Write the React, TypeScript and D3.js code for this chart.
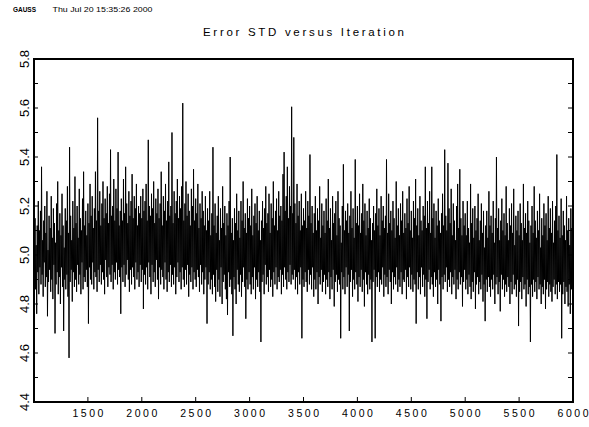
import React from "react";
import * as d3 from "d3";

const START_ITER = 1000;
const ITER_STEP = 5;
const errorStd: number[] = [
  5.08, 4.90, 5.15, 4.86, 5.04, 4.76, 5.12, 4.93, 5.22, 4.84, 5.10, 4.95, 5.18, 4.88, 5.36, 4.92, 5.06, 4.83, 5.14, 4.97,
  5.20, 4.87, 5.09, 4.91, 5.26, 4.75, 5.02, 4.89, 5.16, 4.94, 5.11, 4.85, 5.24, 4.90, 5.07, 4.82, 5.19, 4.96, 5.13, 4.68,
  5.05, 4.88, 5.21, 4.93, 5.30, 4.84, 5.10, 4.91, 5.17, 4.80, 5.08, 4.95, 5.25, 4.87, 5.12, 4.69, 5.03, 4.90, 5.19, 4.86,
  5.14, 4.92, 5.28, 4.83, 5.09, 4.58, 5.44, 4.89, 5.16, 4.94, 5.06, 4.81, 5.22, 4.93, 5.11, 4.87, 5.32, 4.90, 5.13, 4.85,
  5.20, 4.96, 5.07, 4.88, 5.27, 4.92, 5.15, 4.84, 5.10, 4.97, 5.23, 4.86, 5.34, 4.91, 5.12, 4.89, 5.18, 4.94, 5.08, 4.87,
  5.21, 4.72, 5.13, 4.95, 5.29, 4.90, 5.16, 4.88, 5.24, 4.97, 5.11, 4.86, 5.19, 4.93, 5.34, 4.91, 5.14, 4.85, 5.56, 4.94,
  5.18, 4.89, 5.26, 4.96, 5.12, 4.88, 5.21, 4.93, 5.30, 4.90, 5.15, 4.84, 5.23, 4.98, 5.17, 4.91, 5.28, 4.87, 5.13, 4.95,
  5.25, 4.92, 5.43, 4.89, 5.16, 4.96, 5.20, 4.86, 5.31, 4.93, 5.14, 4.90, 5.27, 4.97, 5.19, 4.88, 5.42, 4.94, 5.12, 4.91,
  5.18, 4.76, 5.23, 4.95, 5.14, 4.89, 5.31, 4.96, 5.17, 4.87, 5.36, 4.92, 5.21, 4.98, 5.13, 4.90, 5.26, 4.85, 5.16, 4.94,
  5.22, 4.88, 5.33, 4.95, 5.15, 4.91, 5.24, 4.86, 5.19, 4.97, 5.29, 4.90, 5.12, 4.93, 5.20, 4.87, 5.17, 4.96, 5.24, 4.89,
  5.15, 4.94, 5.27, 4.78, 5.18, 4.92, 5.22, 4.88, 5.29, 4.95, 5.14, 4.86, 5.47, 4.97, 5.20, 4.91, 5.16, 4.84, 5.25, 4.96,
  5.19, 4.89, 5.30, 4.93, 5.13, 4.87, 5.23, 4.98, 5.17, 4.90, 5.27, 4.82, 5.15, 4.95, 5.21, 4.88, 5.34, 4.94, 5.12, 4.91,
  5.24, 4.86, 5.18, 4.97, 5.29, 4.90, 5.14, 4.85, 5.22, 4.93, 5.38, 4.89, 5.16, 4.96, 5.20, 4.87, 5.50, 4.92, 5.13, 4.88,
  5.26, 4.95, 5.17, 4.84, 5.22, 4.91, 5.31, 4.97, 5.15, 4.89, 5.24, 4.93, 5.19, 4.86, 5.28, 4.95, 5.62, 4.90, 5.14, 4.87,
  5.21, 4.94, 5.30, 4.88, 5.16, 4.96, 5.25, 4.83, 5.18, 4.92, 5.12, 4.89, 5.27, 4.95, 5.20, 4.86, 5.35, 4.93, 5.14, 4.90,
  5.23, 4.87, 5.17, 4.94, 5.29, 4.91, 5.11, 4.85, 5.21, 4.96, 5.15, 4.88, 5.26, 4.93, 5.18, 4.84, 5.12, 4.90, 5.24, 4.95,
  5.10, 4.72, 5.19, 4.88, 5.14, 4.93, 5.26, 4.86, 5.08, 4.90, 5.17, 4.84, 5.44, 4.92, 5.12, 4.87, 5.21, 4.81, 5.09, 4.94,
  5.16, 4.85, 5.24, 4.90, 5.06, 4.83, 5.19, 4.95, 5.11, 4.80, 5.28, 4.89, 5.13, 4.92, 5.20, 4.86, 5.08, 4.82, 5.17, 4.755,
  5.12, 4.93, 5.22, 4.87, 5.40, 4.90, 5.09, 4.84, 5.15, 4.67, 5.06, 4.91, 5.19, 4.86, 5.13, 4.80, 5.25, 4.94, 5.10, 4.88,
  5.18, 4.85, 5.07, 4.92, 5.22, 4.83, 5.14, 4.89, 5.30, 4.95, 5.11, 4.87, 5.17, 4.74, 5.09, 4.90, 5.23, 4.86, 5.15, 4.93,
  5.20, 4.88, 5.12, 4.84, 5.27, 4.91, 5.08, 4.86, 5.16, 4.95, 5.21, 4.82, 5.13, 4.90, 5.24, 4.87, 5.10, 4.93, 5.18, 4.85,
  5.06, 4.645, 5.14, 4.89, 5.22, 4.92, 5.11, 4.84, 5.19, 4.96, 5.28, 4.88, 5.13, 4.91, 5.17, 4.85, 5.25, 4.94, 5.09, 4.87,
  5.21, 4.90, 5.15, 4.83, 5.30, 4.93, 5.12, 4.88, 5.18, 4.95, 5.23, 4.86, 5.10, 4.91, 5.26, 4.89, 5.16, 4.94, 5.20, 4.84,
  5.14, 4.92, 5.33, 4.87, 5.42, 4.95, 5.18, 4.90, 5.24, 4.86, 5.36, 4.93, 5.15, 4.89, 5.28, 4.96, 5.20, 4.88, 5.605, 4.92,
  5.17, 4.90, 5.48, 4.94, 5.21, 4.86, 5.13, 4.91, 5.29, 4.84, 5.16, 4.93, 5.22, 4.88, 5.10, 4.95, 5.25, 4.66, 5.12, 4.90,
  5.19, 4.87, 5.14, 4.93, 5.26, 4.89, 5.11, 4.85, 5.22, 4.94, 5.16, 4.88, 5.41, 4.92, 5.13, 4.86, 5.20, 4.95, 5.09, 4.83,
  5.17, 4.90, 5.24, 4.86, 5.10, 4.93, 5.19, 4.80, 5.14, 4.91, 5.28, 4.88, 5.07, 4.94, 5.21, 4.85, 5.12, 4.89, 5.18, 4.92,
  5.09, 4.84, 5.23, 4.90, 5.14, 4.87, 5.31, 4.93, 5.11, 4.82, 5.19, 4.91, 5.06, 4.86, 5.24, 4.94, 5.13, 4.79, 5.17, 4.89,
  5.22, 4.92, 5.08, 4.85, 5.26, 4.90, 5.15, 4.88, 5.12, 4.66, 5.05, 4.93, 5.20, 4.86, 5.37, 4.91, 5.10, 4.84, 5.18, 4.95,
  5.14, 4.87, 5.21, 4.92, 5.09, 4.69, 5.16, 4.89, 5.26, 4.94, 5.11, 4.83, 5.19, 4.90, 5.07, 4.86, 5.39, 4.93, 5.13, 4.88,
  5.20, 4.81, 5.12, 4.91, 5.25, 4.87, 5.09, 4.94, 5.17, 4.85, 5.29, 4.90, 5.14, 4.79, 5.21, 4.93, 5.08, 4.88, 5.18, 4.84,
  5.11, 4.92, 5.23, 4.86, 5.15, 4.90, 5.06, 4.645, 5.13, 4.89, 5.20, 4.94, 5.10, 4.66, 5.17, 4.91, 5.27, 4.87, 5.12, 4.93,
  5.19, 4.85, 5.08, 4.90, 5.24, 4.88, 5.14, 4.95, 5.20, 4.83, 5.11, 4.92, 5.16, 4.87, 5.39, 4.91, 5.09, 4.84, 5.25, 4.94,
  5.13, 4.89, 5.18, 4.80, 5.10, 4.93, 5.22, 4.86, 5.15, 4.91, 5.07, 4.88, 5.30, 4.95, 5.12, 4.85, 5.19, 4.90, 5.08, 4.87,
  5.21, 4.93, 5.14, 4.84, 5.26, 4.90, 5.09, 4.89, 5.17, 4.94, 5.11, 4.82, 5.23, 4.91, 5.13, 4.87, 5.28, 4.95, 5.10, 4.86,
  5.18, 4.92, 5.07, 4.85, 5.22, 4.90, 5.15, 4.88, 5.31, 4.72, 5.12, 4.93, 5.19, 4.86, 5.08, 4.91, 5.24, 4.84, 5.14, 4.95,
  5.10, 4.87, 5.20, 4.92, 5.16, 4.83, 5.36, 4.90, 5.11, 4.74, 5.22, 4.89, 5.13, 4.94, 5.26, 4.86, 5.09, 4.91, 5.36, 4.88,
  5.15, 4.83, 5.21, 4.93, 5.07, 4.87, 5.18, 4.90, 5.12, 4.80, 5.23, 4.94, 5.14, 4.88, 5.09, 4.73, 5.17, 4.91, 5.25, 4.86,
  5.12, 4.92, 5.43, 4.89, 5.16, 4.95, 5.10, 4.85, 5.375, 4.90, 5.19, 4.87, 5.13, 4.93, 5.27, 4.84, 5.08, 4.91, 5.21, 4.88,
  5.14, 4.94, 5.06, 4.82, 5.20, 4.90, 5.29, 4.86, 5.11, 4.93, 5.35, 4.88, 5.15, 4.91, 5.08, 4.79, 5.22, 4.89, 5.12, 4.94,
  5.17, 4.86, 5.08, 4.90, 5.22, 4.84, 5.11, 4.92, 5.05, 4.87, 5.29, 4.82, 5.13, 4.89, 5.19, 4.85, 5.07, 4.93, 5.20, 4.78,
  5.10, 4.88, 5.15, 4.91, 5.25, 4.84, 5.06, 4.89, 5.14, 4.86, 5.21, 4.92, 5.09, 4.81, 5.18, 4.88, 5.03, 4.73, 5.12, 4.90,
  5.18, 4.85, 5.07, 4.91, 5.26, 4.87, 5.12, 4.83, 5.16, 4.90, 5.09, 4.86, 5.22, 4.92, 5.05, 4.80, 5.15, 4.88, 5.40, 4.91,
  5.11, 4.84, 5.19, 4.89, 5.06, 4.77, 5.14, 4.92, 5.23, 4.86, 5.10, 4.90, 5.17, 4.83, 5.08, 4.88, 5.28, 4.85, 5.13, 4.91,
  5.06, 4.87, 5.19, 4.80, 5.12, 4.89, 5.21, 4.84, 5.09, 4.92, 5.27, 4.86, 5.04, 4.88, 5.16, 4.83, 5.10, 4.90, 5.18, 4.71,
  5.08, 4.85, 5.21, 4.89, 5.13, 4.82, 5.06, 4.91, 5.29, 4.86, 5.11, 4.88, 5.17, 4.79, 5.09, 4.90, 5.22, 4.84, 5.14, 4.87,
  5.05, 4.645, 5.12, 4.88, 5.20, 4.83, 5.09, 4.90, 5.28, 4.85, 5.14, 4.89, 5.07, 4.82, 5.18, 4.91, 5.10, 4.86, 5.25, 4.88,
  5.03, 4.80, 5.15, 4.87, 5.08, 4.84, 5.21, 4.90, 5.12, 4.78, 5.17, 4.86, 5.06, 4.89, 5.24, 4.83, 5.11, 4.88, 5.19, 4.85,
  5.09, 4.81, 5.22, 4.87, 5.05, 4.90, 5.14, 4.84, 5.20, 4.88, 5.41, 4.82, 5.10, 4.89, 5.16, 4.85, 5.07, 4.88, 5.23, 4.66,
  5.08, 4.84, 5.18, 4.89, 5.12, 4.80, 5.06, 4.87, 5.24, 4.85, 5.10, 4.79, 5.15, 4.88, 5.04, 4.76, 5.19, 4.86, 5.11, 4.89,
  5.06,
];

const xTicks = [1500, 2000, 2500, 3000, 3500, 4000, 4500, 5000, 5500, 6000];
const yTickLabels = ["4.4", "4.6", "4.8", "5.0", "5.2", "5.4", "5.6", "5.8"];
const yMinorTicks = [4.4, 4.5, 4.6, 4.7, 4.8, 4.9, 5.0, 5.1, 5.2, 5.3, 5.4, 5.5, 5.6, 5.7, 5.8];

const TITLE = "Error STD versus Iteration";
const HEADER_LEFT = "GAUSS";
const HEADER_DATE = "Thu Jul 20 15:35:26 2000";

export default function App() {
  const W = 589;
  const H = 427;
  const left = 34;
  const right = 573;
  const top = 59;
  const bottom = 402;
  const x = d3.scaleLinear().domain([1000, 6000]).range([left, right]);
  const y = d3.scaleLinear().domain([4.4, 5.8]).range([bottom, top]);
  const line = d3
    .line<number>()
    .x((_, i) => x(START_ITER + i * ITER_STEP))
    .y((d) => y(d));
  const font = "'Liberation Sans', Arial, sans-serif";

  return (
    <svg
      width={W}
      height={H}
      style={{ position: "absolute", left: 0, top: 0, background: "#fff" }}
      fontFamily={font}
    >
      <rect x={0} y={0} width={W} height={H} fill="#fff" />
      <text x={13} y={12} fontSize={6.5} fontWeight="bold" textLength={23} lengthAdjust="spacingAndGlyphs">
        {HEADER_LEFT}
      </text>
      <text x={52.5} y={12} fontSize={7} textLength={100} lengthAdjust="spacingAndGlyphs">
        {HEADER_DATE}
      </text>
      <text x={203} y={36} fontSize={11.5} textLength={201} lengthAdjust="spacing">
        {TITLE}
      </text>

      <path d={line(errorStd) || ""} fill="none" stroke="#000" strokeWidth={1} strokeLinejoin="miter" />

      <rect
        x={left}
        y={top}
        width={right - left}
        height={bottom - top}
        fill="none"
        stroke="#000"
        strokeWidth={2}
      />
      {yMinorTicks.map((v) => (
        <g key={"yt" + v}>
          <line x1={left} x2={left + 4} y1={y(v)} y2={y(v)} stroke="#000" strokeWidth={1} />
          <line x1={right - 5} x2={right} y1={y(v)} y2={y(v)} stroke="#000" strokeWidth={1} />
        </g>
      ))}
      {xTicks.map((v) => (
        <line key={"xt" + v} x1={x(v)} x2={x(v)} y1={bottom} y2={bottom - 5} stroke="#000" strokeWidth={1} />
      ))}
      {xTicks.map((v) => (
        <text
          key={"xl" + v}
          x={x(v)}
          y={417}
          fontSize={10.5}
          textAnchor="middle"
          textLength={31}
          lengthAdjust="spacing"
        >
          {String(v)}
        </text>
      ))}
      {yTickLabels.map((s) => (
        <text
          key={"yl" + s}
          transform={`translate(28.5,${y(+s)}) rotate(-90)`}
          fontSize={13}
          textAnchor="middle"
        >
          {s}
        </text>
      ))}
    </svg>
  );
}
